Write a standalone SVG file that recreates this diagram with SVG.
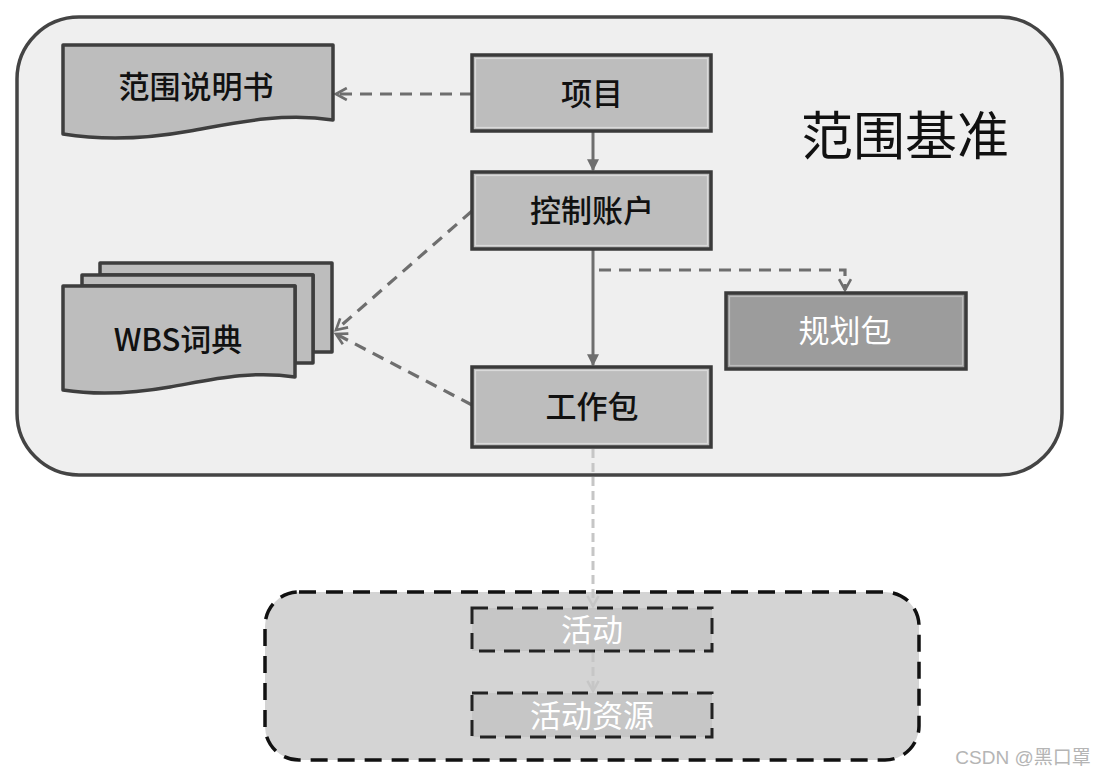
<svg xmlns="http://www.w3.org/2000/svg" width="1098" height="775" viewBox="0 0 1098 775">
<style>
text{font-family:"Noto Sans CJK SC","Liberation Sans",sans-serif;text-anchor:middle;dominant-baseline:central;font-weight:500}
.box{fill:#bdbdbd;stroke:#3a3a3a;stroke-width:3.5}
.inner{fill:none;stroke:#dadada;stroke-width:1.2}
.doc{fill:#bdbdbd;stroke:#3e3e3e;stroke-width:3.5;stroke-linejoin:round}
.lbl{font-size:31px;fill:#111}
.wl{font-size:31px;fill:#fff;font-weight:400}
.c{fill:none;stroke:#6e6e6e;stroke-width:3}
.d{fill:none;stroke:#6e6e6e;stroke-width:3.2;stroke-dasharray:12 8}
.l{fill:none;stroke:#c6c6c6;stroke-width:3;stroke-dasharray:9 5}
.dbox{fill:#c6c6c6;stroke:#222;stroke-width:3;stroke-dasharray:16 9}
</style>
<defs>
<marker id="fa" viewBox="0 0 10 10" refX="9" refY="5" markerWidth="4" markerHeight="4" orient="auto" markerUnits="strokeWidth"><path d="M0,0 L10,5 L0,10 Z" fill="#6e6e6e"/></marker>
<marker id="oa" viewBox="0 0 12 12" refX="10" refY="6" markerWidth="4.5" markerHeight="4.5" orient="auto" markerUnits="strokeWidth"><path d="M1,1 L10,6 L1,11" fill="none" stroke="#6e6e6e" stroke-width="2.2"/></marker>
<marker id="la" viewBox="0 0 12 12" refX="10" refY="6" markerWidth="4.5" markerHeight="4.5" orient="auto" markerUnits="strokeWidth"><path d="M1,1 L10,6 L1,11" fill="none" stroke="#c6c6c6" stroke-width="2.2"/></marker>
</defs>
<rect width="1098" height="775" fill="#fff"/>
<g id="scope-baseline">
<rect x="17" y="17" width="1045" height="458" rx="62" fill="#efefef" stroke="#444" stroke-width="3.5"/>
<text x="905" y="132" style="font-size:52px;fill:#111;font-weight:400">范围基准</text>
</g>
<g id="lower-group">
<rect x="265" y="592" width="654" height="168" rx="34" fill="#d4d4d4" stroke="#111" stroke-width="3.5" stroke-dasharray="17 10"/>
</g>
<g id="connectors">
<path class="d" d="M472,94 H336" marker-end="url(#oa)"/>
<path class="c" d="M593,131 V170" marker-end="url(#fa)"/>
<path class="c" d="M593,249 V365" marker-end="url(#fa)"/>
<path class="d" d="M599,270 H845 V290" marker-end="url(#oa)"/>
<path class="d" d="M472,211 L336,330" marker-end="url(#oa)"/>
<path class="d" d="M472,405 L336,334" marker-end="url(#oa)"/>
<path class="l" d="M593,449 V606" marker-end="url(#la)"/>
<path class="l" d="M593,653 V691" marker-end="url(#la)"/>
</g>
<g id="scope-statement">
<path class="doc" d="M63,45 H333 V120 C 280,112 230,124 190,131 C 140,140 100,140 63,134 Z"/>
<text class="lbl" x="196" y="84">范围说明书</text>
</g>
<g id="wbs-dictionary">
<path class="doc" d="M100,263 H332 V352 L313,352 V275 H100 Z"/>
<path class="doc" d="M82,275 H313 V363 L295,363 V286 H82 Z"/>
<path class="doc" d="M63,286 H295 V377 C 250,370 210,380 170,387 C 130,394 95,395 63,390 Z"/>
<text class="lbl" x="178" y="337">WBS词典</text>
</g>
<g id="project">
<rect class="box" x="472" y="55" width="239" height="76"/>
<rect class="inner" x="475.5" y="58.5" width="232" height="69"/>
<text class="lbl" x="592" y="91">项目</text>
</g>
<g id="control-account">
<rect class="box" x="472" y="172" width="239" height="77"/>
<rect class="inner" x="475.5" y="175.5" width="232" height="70"/>
<text class="lbl" x="592" y="208">控制账户</text>
</g>
<g id="planning-package">
<rect class="box" x="726" y="293" width="240" height="76" style="fill:#9c9c9c"/>
<rect class="inner" x="729.5" y="296.5" width="233" height="69" style="stroke:#bdbdbd"/>
<text class="wl" x="845" y="328">规划包</text>
</g>
<g id="work-package">
<rect class="box" x="472" y="367" width="239" height="80"/>
<rect class="inner" x="475.5" y="370.5" width="232" height="73"/>
<text class="lbl" x="592" y="404">工作包</text>
</g>
<g id="activity">
<rect class="dbox" x="472" y="608" width="240" height="43"/>
<text class="wl" x="592" y="627">活动</text>
</g>
<g id="activity-resources">
<rect class="dbox" x="472" y="693" width="240" height="44"/>
<text class="wl" x="592" y="713">活动资源</text>
</g>
<text x="1023" y="757" style="font-size:19px;font-weight:400;fill:#b5b5b5;font-family:'Liberation Sans','Noto Sans CJK SC',sans-serif">CSDN @黑口罩</text>
</svg>
